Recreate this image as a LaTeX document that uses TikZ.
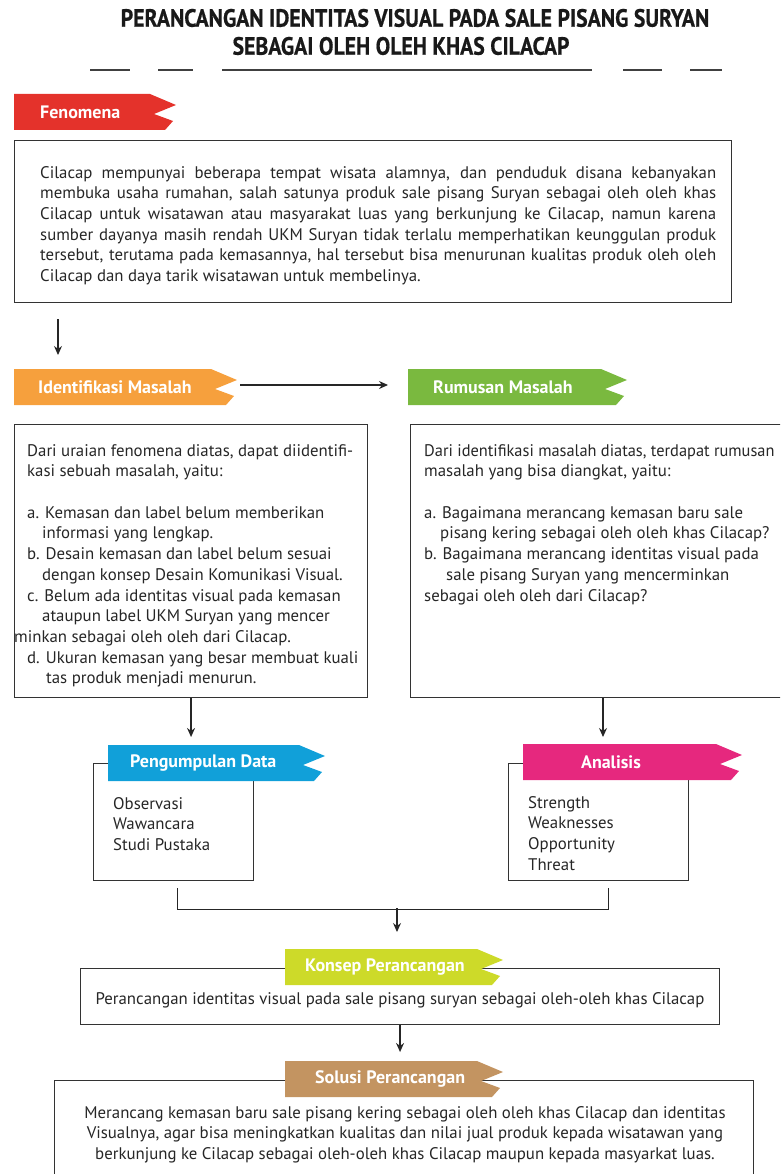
\documentclass[tikz,border=0pt]{standalone}
\usepackage{fontspec}
\usetikzlibrary{arrows.meta}
\setmainfont{PT Sans}
\newfontfamily\titlefont{PT Sans}[FakeStretch=0.87,FakeBold=0.6]
\definecolor{fenred}{HTML}{E4322B}
\definecolor{idorange}{HTML}{F6A03D}
\definecolor{rumgreen}{HTML}{7AB93F}
\definecolor{pgblue}{HTML}{11A0D9}
\definecolor{anpink}{HTML}{E6287E}
\definecolor{kolime}{HTML}{CDDA29}
\definecolor{sobrown}{HTML}{C39461}
% ribbon: top left corner, width, colour
\newcommand\ribbon[3]{\fill[#3] (#1) -- ++({#2-26},0) -- ++(26,11) -- ++(-22,9)
  -- ++(19,7) -- ++(-8,9) -- ++({-(#2-11)},0) -- cycle;}
\begin{document}
\begin{tikzpicture}[x=1pt,y=-1pt,>={Stealth[length=9pt,width=8pt]},
  box/.style={draw=black!80,line width=1.1pt,anchor=north west,inner sep=0pt},
  con/.style={draw=black!85,line width=1.2pt},
  tag/.style={text=white,font=\bfseries\fontsize{18}{20}\selectfont,inner sep=0pt,anchor=west},
  txt/.style={text=black!85,font=\fontsize{16.8}{20.7}\selectfont,inner sep=0pt,anchor=north west,align=left},
  ttl/.style={text=black!90,font=\titlefont\bfseries\fontsize{25}{28}\selectfont,inner sep=0pt}]
 \useasboundingbox (0,0) rectangle (780,1174);
 \clip (0,0) rectangle (780,1174);
 % title
 \node (t1) [ttl] at (415,18) {PERANCANGAN IDENTITAS VISUAL PADA SALE PISANG SURYAN};
 \node (t2) [ttl] at (401,46) {SEBAGAI OLEH OLEH KHAS CILACAP};
 \foreach \a/\b in {90/130,158/193,222/592,623/662,690/722}
  \draw[black!75,line width=1.4pt] (\a,70) -- (\b,70);
 % fenomena
 \coordinate (fenr) at (14,94);
 \ribbon{fenr}{162}{fenred}
 \node (fentag) [tag] at ([shift={(26,18)}]fenr) {Fenomena};
 \node (fenbox) [box,minimum width=717pt,minimum height=162pt] at (14,140) {};
 \node (fentext) [txt,text width=676pt,align=justify] at (40,166)
 {Cilacap mempunyai beberapa tempat wisata alamnya, dan penduduk disana kebanyakan\linebreak
 membuka usaha rumahan, salah satunya produk sale pisang Suryan sebagai oleh oleh khas\linebreak
 Cilacap untuk wisatawan atau masyarakat luas yang berkunjung ke Cilacap, namun karena\linebreak
 sumber dayanya masih rendah UKM Suryan tidak terlalu memperhatikan keunggulan produk\linebreak
 tersebut, terutama pada kemasannya, hal tersebut bisa menurunan kualitas produk oleh oleh\linebreak
 Cilacap dan daya tarik wisatawan untuk membelinya.};
 % identifikasi and rumusan
 \coordinate (idr) at (14,369);
 \coordinate (rumr) at (408,369);
 \ribbon{idr}{223}{idorange}
 \ribbon{rumr}{219}{rumgreen}
 \node (idtag) [tag] at ([shift={(24,18)}]idr) {Identifikasi Masalah};
 \node (rumtag) [tag] at ([shift={(25,18)}]rumr) {Rumusan Masalah};
 \draw[con,->] ([shift={(44,16)}]fenbox.south west) -- ([shift={(44,-14)}]idr);
 \draw[con,->] ([shift={(226,16)}]idr) -- ([shift={(-20,16)}]rumr);
 \node (idbox) [box,minimum width=353pt,minimum height=273pt] at (14,424) {};
 \node (rumbox) [box,minimum width=390pt,minimum height=273pt] at (410,424) {};
 \node (idtext) [txt] at (27,444)
 {Dari uraian fenomena diatas, dapat diidentifi-\\
 kasi sebuah masalah, yaitu:\\ ~\\
 a. Kemasan dan label belum memberikan\\
 \hspace*{15pt}informasi yang lengkap.\\
 b. Desain kemasan dan label belum sesuai\\
 \hspace*{15pt}dengan konsep Desain Komunikasi Visual.\\
 c. Belum ada identitas visual pada kemasan\\
 \hspace*{15pt}ataupun label UKM Suryan yang mencer\\
 \hspace*{-13pt}minkan sebagai oleh oleh dari Cilacap.\\
 d. Ukuran kemasan yang besar membuat kuali\\
 \hspace*{19pt}tas produk menjadi menurun.};
 \node (rumtext) [txt] at (424,444)
 {\scalebox{0.975}[1]{Dari identifikasi masalah diatas, terdapat rumusan}\\
 masalah yang bisa diangkat, yaitu:\\ ~\\
 a. Bagaimana merancang kemasan baru sale\\
 \hspace*{16pt}pisang kering sebagai oleh oleh khas Cilacap?\\
 b. Bagaimana merancang identitas visual pada\\
 \hspace*{22pt}sale pisang Suryan yang mencerminkan\\
 sebagai oleh oleh dari Cilacap?};
 % pengumpulan data and analisis
 \coordinate (pgr) at (108,745);
 \coordinate (anr) at (523,744);
 \node (pgbox) [box,minimum width=160pt,minimum height=117pt] at (93,763) {};
 \node (anbox) [box,minimum width=180pt,minimum height=117pt] at (508,763) {};
 \ribbon{pgr}{217}{pgblue}
 \ribbon{anr}{219}{anpink}
 \node (pgtag) [tag] at ([shift={(22,18)}]pgr) {Pengumpulan Data};
 \node (antag) [tag,anchor=center] at ([shift={(88,18)}]anr) {Analisis};
 \draw[con,->,shorten >=8pt] (idbox.south) -- (idbox.south |- pgr);
 \draw[con,->,shorten >=7pt] ([xshift=80pt]anr |- rumbox.south) -- ([xshift=80pt]anr);
 \node (pgtext) [txt] at (113,797) {Observasi\\ Wawancara\\ Studi Pustaka};
 \node (antext) [txt] at (528,796) {Strength\\ Weaknesses\\ Opportunity\\ Threat};
 \coordinate (jm) at (397,908);
 \draw[con] ([shift={(4,7)}]pgbox.south) |- ([shift={(10,28)}]anbox.south)
  -- ([shift={(10,7)}]anbox.south);
 % konsep and solusi
 \coordinate (kor) at (285,949);
 \coordinate (sor) at (285,1061);
 \draw[con,->,shorten >=17pt] (jm) -- (jm |- kor);
 \node (kobox) [box,minimum width=639pt,minimum height=56pt] at (80,968) {};
 \ribbon{kor}{218}{kolime}
 \node (kotag) [tag] at ([shift={(20,18)}]kor) {Konsep Perancangan};
 \node (kotext) [txt,anchor=center] at (400,1000)
 {Perancangan identitas visual pada sale pisang suryan sebagai oleh-oleh khas Cilacap};
 \draw[con,->,shorten >=9pt] (kobox.south) -- (kobox.south |- sor);
 \node (sobox) [box,minimum width=699pt,minimum height=140pt] at (54,1080) {};
 \ribbon{sor}{218}{sobrown}
 \node (sotag) [tag] at ([shift={(30,18)}]sor) {Solusi Perancangan};
 \node (sotext) [txt,anchor=north,align=center] at (405,1106)
 {Merancang kemasan baru sale pisang kering sebagai oleh oleh khas Cilacap dan identitas\\
 Visualnya, agar bisa meningkatkan kualitas dan nilai jual produk kepada wisatawan yang\\
 berkunjung ke Cilacap sebagai oleh-oleh khas Cilacap maupun kepada masyarkat luas.};
\end{tikzpicture}
\end{document}
